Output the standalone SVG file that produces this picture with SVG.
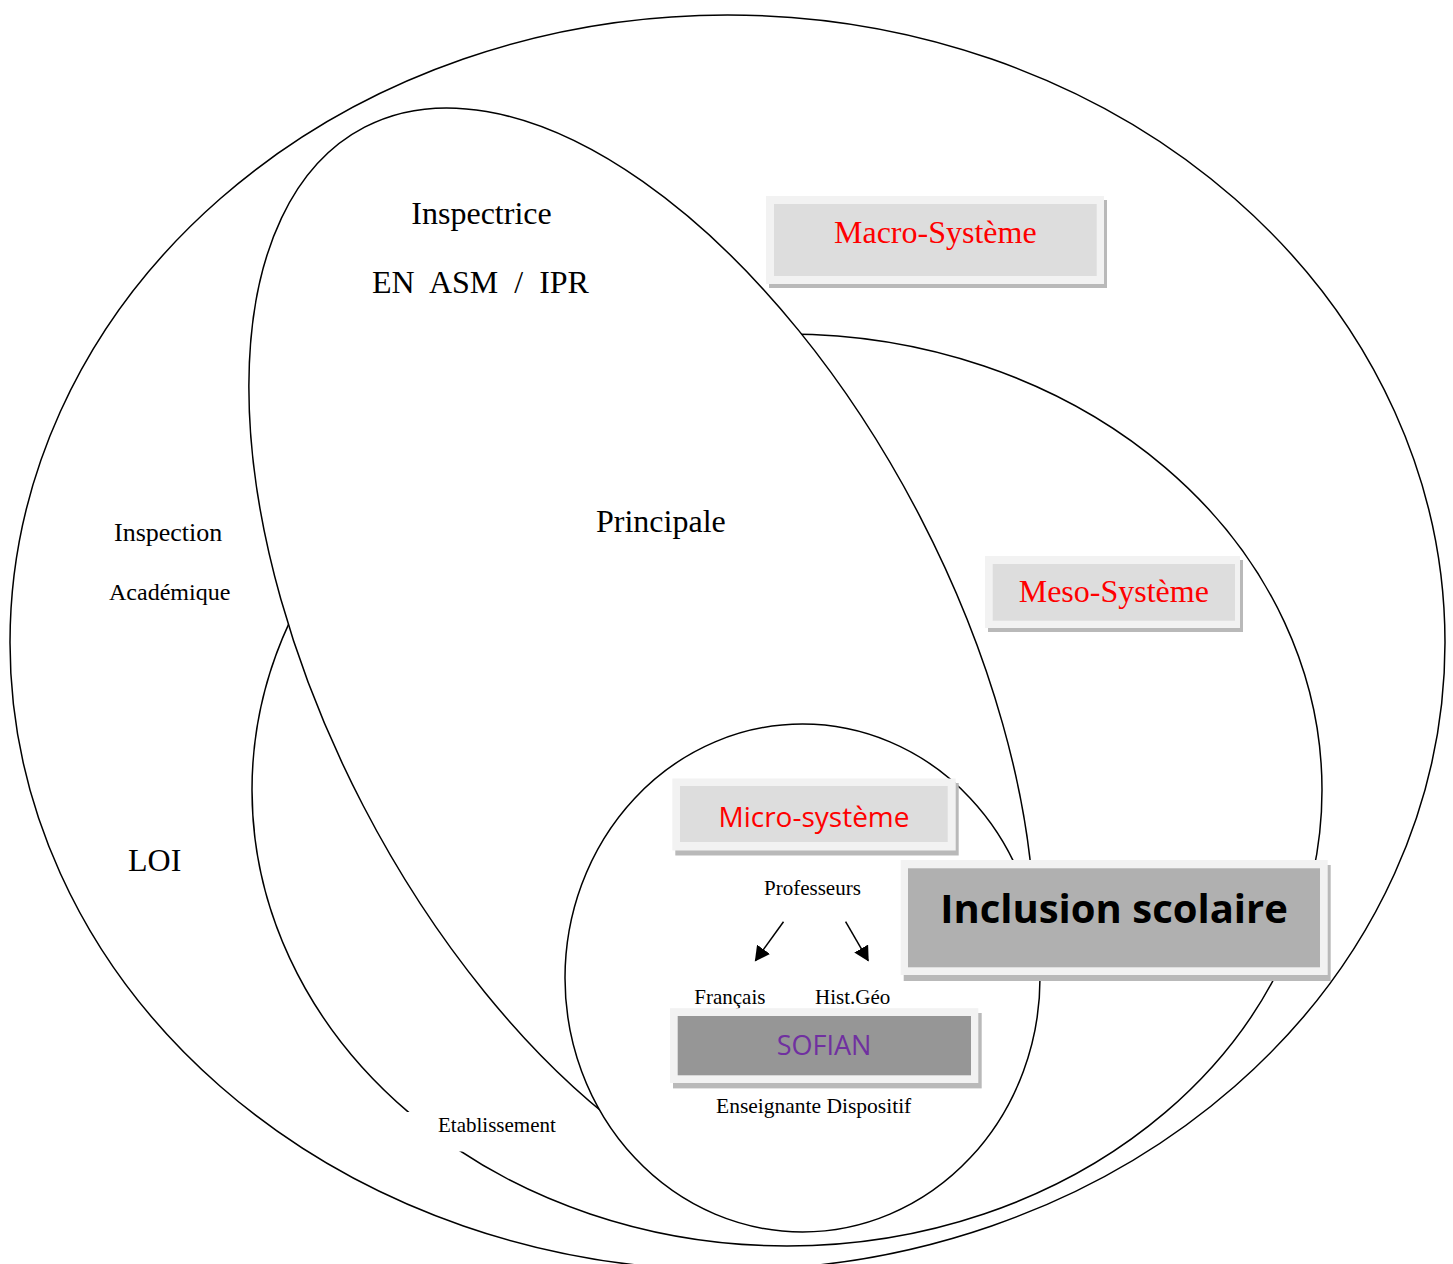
<svg xmlns="http://www.w3.org/2000/svg" width="1453" height="1264" viewBox="0 0 1453 1264">
  <defs>
    <style>
      .ring { fill: #ffffff; stroke: #000000; stroke-width: 1.5; }
      .serif { font-family: "Liberation Serif", "Times New Roman", serif; fill: #000000; }
      .sans { font-family: "Open Sans", "Noto Sans", "Liberation Sans", sans-serif; }
      .rim { fill: #f2f2f2; }
      .shadow { fill: #b9b9b9; }
      .light { fill: #dddddd; }
      .red { fill: #ff0000; }
      .arrow { stroke: #000000; stroke-width: 1.5; fill: none; marker-end: url(#head); }
    </style>
    <marker id="head" markerUnits="userSpaceOnUse" markerWidth="16" markerHeight="16" refX="14" refY="8" orient="auto">
      <path d="M0,0 L15,8 L0,16 z" fill="#000000"/>
    </marker>
  </defs>
  <rect x="0" y="0" width="1453" height="1264" fill="#ffffff"/>

  <g id="macro-systeme">
    <ellipse class="ring" cx="727.5" cy="642.5" rx="717.5" ry="627.5"/>
  </g>
  <g id="meso-systeme">
    <ellipse class="ring" cx="787" cy="790" rx="535" ry="456"/>
  </g>
  <g id="etablissement">
    <rect x="395" y="1112" width="170" height="39.5" fill="#ffffff"/>
    <text class="serif" x="438" y="1131.7" font-size="21">Etablissement</text>
  </g>
  <g id="principale">
    <ellipse class="ring" cx="641.7" cy="661.3" rx="601.7" ry="313.7" transform="rotate(62.58 641.7 661.3)"/>
  </g>
  <g id="micro-systeme">
    <ellipse class="ring" cx="802.5" cy="978" rx="237.5" ry="254"/>
  </g>

  <g id="labels">
    <text class="serif" x="481.5" y="224" font-size="32" text-anchor="middle">Inspectrice</text>
    <text class="serif" x="372" y="293" font-size="32" xml:space="preserve" style="white-space:pre">EN  ASM  /  IPR</text>
    <text class="serif" x="596" y="532" font-size="32">Principale</text>
    <text class="serif" x="114" y="541" font-size="26">Inspection</text>
    <text class="serif" x="109" y="600" font-size="24">Académique</text>
    <text class="serif" x="128" y="871" font-size="32">LOI</text>
    <text class="serif" x="764" y="894.6" font-size="21">Professeurs</text>
    <text class="serif" x="694.3" y="1003.7" font-size="21">Français</text>
    <text class="serif" x="815" y="1003.7" font-size="21">Hist.Géo</text>
    <text class="serif" x="716" y="1113.2" font-size="21.5">Enseignante Dispositif</text>
  </g>

  <g id="box-macro">
    <rect class="shadow" x="769" y="200" width="338" height="88"/>
    <rect class="rim" x="766" y="196" width="338" height="88"/>
    <rect class="light" x="774" y="204" width="322.7" height="72"/>
    <text class="serif red" x="935.3" y="243" font-size="32" text-anchor="middle">Macro-Système</text>
  </g>
  <g id="box-meso">
    <rect class="shadow" x="988" y="560" width="255" height="72"/>
    <rect class="rim" x="985" y="556" width="255" height="72"/>
    <rect class="light" x="992.7" y="564" width="242.3" height="56.7"/>
    <text class="serif red" x="1113.8" y="601.7" font-size="32" text-anchor="middle">Meso-Système</text>
  </g>
  <g id="box-micro">
    <rect class="shadow" x="675.3" y="783" width="283.4" height="72.5"/>
    <rect class="rim" x="672.3" y="778.5" width="283.4" height="72"/>
    <rect class="light" x="680" y="786" width="267.7" height="56"/>
    <text class="sans red" x="814" y="826.7" font-size="28" text-anchor="middle">Micro-système</text>
  </g>
  <g id="box-inclusion">
    <rect class="shadow" x="903.7" y="865" width="427" height="116"/>
    <rect class="rim" x="900.7" y="860" width="427" height="115"/>
    <rect x="908" y="868.3" width="412" height="99" fill="#b0b0b0"/>
    <text class="sans" x="1114" y="923.3" font-size="40" font-weight="bold" text-anchor="middle" fill="#000000">Inclusion scolaire</text>
  </g>
  <g id="box-sofian">
    <rect class="shadow" x="673" y="1013" width="308.7" height="75.4"/>
    <rect class="rim" x="670" y="1008.2" width="308.3" height="74.8"/>
    <rect x="677.7" y="1016" width="293.3" height="59.3" fill="#969696"/>
    <text class="sans" x="824" y="1054.7" font-size="27" text-anchor="middle" fill="#7030a0">SOFIAN</text>
  </g>

  <g id="connectors">
    <line class="arrow" x1="783.5" y1="921.7" x2="755.4" y2="960.7"/>
    <line class="arrow" x1="845.6" y1="921.7" x2="868.2" y2="960.7"/>
  </g>
</svg>
